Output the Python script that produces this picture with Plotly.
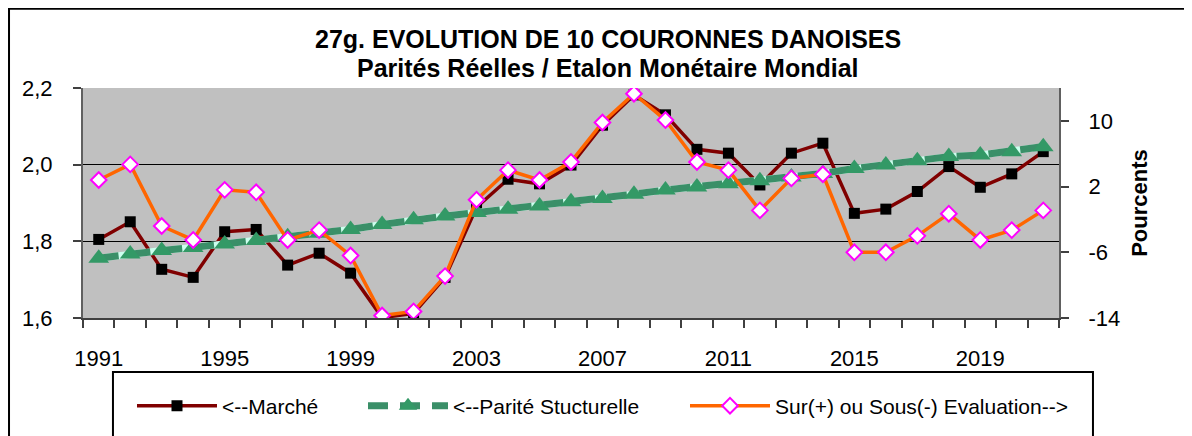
import plotly.graph_objects as go

years = list(range(1991, 2022))
marche = [1.805, 1.851, 1.727, 1.706, 1.825, 1.831, 1.738, 1.769, 1.717, 1.601,
          1.612, 1.706, 1.889, 1.962, 1.950, 1.999, 2.103, 2.182, 2.130, 2.040,
          2.030, 1.947, 2.030, 2.056, 1.873, 1.884, 1.930, 1.995, 1.941, 1.976, 2.034]
parite = [1.756, 1.767, 1.776, 1.784, 1.793, 1.802, 1.812, 1.821, 1.831, 1.844,
          1.856, 1.866, 1.875, 1.884, 1.892, 1.903, 1.912, 1.923, 1.934, 1.942,
          1.950, 1.958, 1.968, 1.977, 1.990, 1.999, 2.010, 2.021, 2.025, 2.034, 2.047]
ecart = [2.8, 4.7, -2.8, -4.5, 1.6, 1.3, -4.5, -3.3, -6.4, -13.7,
         -13.2, -8.9, 0.4, 4.0, 2.8, 5.0, 9.8, 13.3, 10.1, 5.0,
         4.0, -0.9, 3.0, 3.5, -6.0, -6.0, -4.0, -1.3, -4.5, -3.3, -0.9]
xtick_years = [1991, 1995, 1999, 2003, 2007, 2011, 2015, 2019]
xtick_labels = [str(y) for y in xtick_years]
left_ticks = [1.6, 1.8, 2.0, 2.2]
right_ticks = [-14, -6, 2, 10]
right_labels = [str(v) for v in right_ticks]

FONT = "Liberation Sans, Arial, sans-serif"

fig = go.Figure()
fig.add_trace(go.Scatter(
    x=years, y=marche, name="<--Marché", mode="lines+markers", legend="legend",
    line=dict(color="#800000", width=3.5),
    marker=dict(symbol="square", size=11, color="black", line=dict(width=0)),
))
fig.add_trace(go.Scatter(
    x=years, y=parite, name="parite_bg", mode="lines", showlegend=False,
    line=dict(color="#CCFFEE", width=7), hoverinfo="skip",
))
fig.add_trace(go.Scatter(
    x=years, y=parite, name="<--Parité Stucturelle", mode="lines+markers",
    legend="legend2",
    line=dict(color="#3A8F68", width=7, dash="20px,12px"),
    marker=dict(symbol="triangle-up", size=18, color="#339966", line=dict(width=0)),
))
fig.add_trace(go.Scatter(
    x=years, y=ecart, name="Sur(+) ou Sous(-) Evaluation-->", mode="lines+markers",
    yaxis="y2", legend="legend3",
    line=dict(color="#FF6600", width=3.5),
    marker=dict(symbol="diamond", size=12, color="white",
                line=dict(color="#FF00FF", width=2)),
))

leg_common = dict(orientation="h", xanchor="left", yref="container", y=0.070,
                  yanchor="middle",
                  font=dict(family=FONT, size=21, color="black"),
                  bgcolor="rgba(0,0,0,0)", itemwidth=80)

fig.update_layout(
    width=1184, height=428,
    margin=dict(l=75, r=133, t=80, b=118, autoexpand=False),
    paper_bgcolor="white", plot_bgcolor="#C0C0C0",
    separators=",.",
    font=dict(family=FONT, size=22, color="black"),
    showlegend=True,
    legend=dict(x=0.0502, **leg_common),
    legend2=dict(x=0.2869, **leg_common),
    legend3=dict(x=0.6168, **leg_common),
    xaxis=dict(
        range=[1990.5, 2021.5], tickmode="array", tickvals=xtick_years,
        ticktext=xtick_labels, ticks="", showgrid=False, zeroline=False,
        showline=True, linecolor="#404040", linewidth=1.5,
        ticklabelstandoff=20,
        minor=dict(tick0=1990.5, dtick=1, ticks="outside", ticklen=8,
                   tickcolor="#404040", tickwidth=1.5, showgrid=False),
        tickfont=dict(size=22),
    ),
    yaxis=dict(
        range=[1.6, 2.2], tickmode="array", tickvals=left_ticks,
        tickformat=".1f", ticks="outside", ticklen=8, tickcolor="#404040",
        tickwidth=1.5, showline=True, linecolor="#606060", linewidth=2,
        showgrid=True, gridcolor="black", gridwidth=1, zeroline=False,
        ticklabelstandoff=16, tickfont=dict(size=22),
    ),
    yaxis2=dict(
        overlaying="y", side="right", range=[-14, 14], tickmode="array",
        tickvals=right_ticks, ticktext=right_labels, ticks="outside", ticklen=8,
        tickcolor="#404040", tickwidth=1.5, showline=True, linecolor="#606060",
        linewidth=2, showgrid=False, zeroline=False, ticklabelstandoff=15,
        tickfont=dict(size=22),
        title=dict(text="<b>Pourcents</b>", font=dict(size=22), standoff=12),
    ),
    annotations=[
        dict(text="<b>27g. EVOLUTION DE 10 COURONNES DANOISES</b>",
             xref="paper", yref="paper", x=0.538, y=1.215, xanchor="center",
             yanchor="middle", showarrow=False, font=dict(size=25)),
        dict(text="<b>Parités Réelles / Etalon Monétaire Mondial</b>",
             xref="paper", yref="paper", x=0.538, y=1.088, xanchor="center",
             yanchor="middle", showarrow=False, font=dict(size=25)),
    ],
    shapes=[
        dict(type="rect", xref="paper", yref="paper", x0=0.0307, x1=1.0348,
             y0=-0.56, y1=-0.2348, line=dict(color="black", width=2),
             fillcolor="rgba(0,0,0,0)", layer="above"),
        dict(type="rect", xref="paper", yref="paper", x0=-0.0758, x1=1.16,
             y0=-0.6, y1=1.345, line=dict(color="black", width=2),
             fillcolor="rgba(0,0,0,0)", layer="above"),
    ],
)

fig.write_html("out.html")
